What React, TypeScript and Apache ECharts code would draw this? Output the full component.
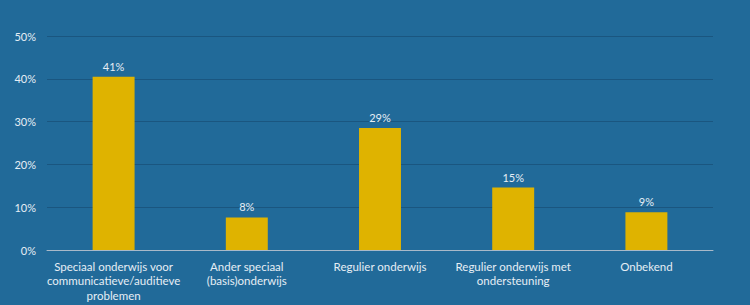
import React, { useEffect, useRef } from "react";
import * as echarts from "echarts";

const categories = [
  "Speciaal onderwijs voor\ncommunicatieve/auditieve\nproblemen",
  "Ander speciaal\n(basis)onderwijs",
  "Regulier onderwijs",
  "Regulier onderwijs met\nondersteuning",
  "Onbekend",
];
const values = [40.5, 7.6, 28.5, 14.6, 8.8];
const yTicks = [0, 10, 20, 30, 40, 50];

export default function App() {
  const ref = useRef<HTMLDivElement>(null);
  useEffect(() => {
    if (!ref.current) return;
    const chart = echarts.init(ref.current, null, { renderer: "svg" });
    const font = "Lato, 'Open Sans', sans-serif";
    chart.setOption({
      animation: false,
      backgroundColor: "#216a99",
      textStyle: { fontFamily: font },
      grid: { left: 47, right: 37, top: 36, bottom: 55 },
      xAxis: {
        type: "category",
        data: categories,
        axisLine: { lineStyle: { color: "#a9b9c9", width: 1 } },
        axisTick: { show: false },
        axisLabel: {
          color: "#e6eef5",
          fontSize: 11.5,
          lineHeight: 14.5,
          margin: 9,
          interval: 0,
          fontFamily: font,
        },
      },
      yAxis: {
        type: "value",
        min: yTicks[0],
        max: yTicks[yTicks.length - 1],
        interval: 10,
        axisLine: { show: false },
        axisTick: { show: false },
        splitLine: { lineStyle: { color: "#1a5680", width: 1 } },
        axisLabel: {
          color: "#e6eef5",
          fontSize: 11,
          margin: 11,
          fontFamily: font,
          formatter: (v: number) => v + "%",
        },
      },
      series: [
        {
          type: "bar",
          data: values,
          barWidth: "31.5%",
          itemStyle: { color: "#dfb300" },
          label: {
            show: true,
            position: "top",
            distance: 5,
            color: "#e6eef5",
            fontSize: 11,
            fontFamily: font,
            formatter: (p: any) => Math.round(p.value) + "%",
          },
        },
      ],
    });
    return () => chart.dispose();
  }, []);
  return (
    <div
      ref={ref}
      style={{ position: "fixed", left: 0, top: 0, width: 750, height: 305 }}
    />
  );
}
